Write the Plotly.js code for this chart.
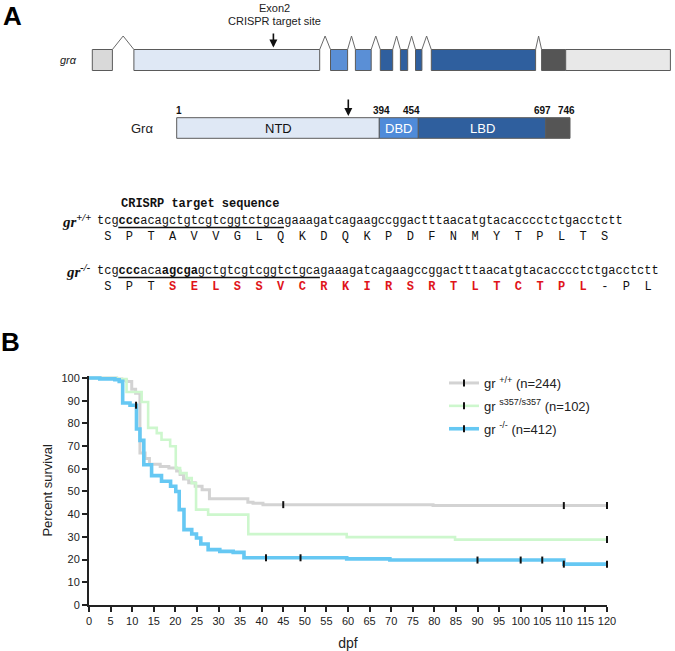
<!DOCTYPE html>
<html><head><meta charset="utf-8">
<script src="https://cdn.plot.ly/plotly-3.0.1.min.js"></script>
<style>html,body{margin:0;padding:0;background:#fff}</style>
</head><body><div id="chart" style="width:675px;height:651px"></div>
<script>
// ---------------- DATA ----------------
// Kaplan-Meier survival (percent) vs days post fertilization
const wtTime   = [0, 6.4, 7.6, 8.7, 9.9, 10.8, 11.8, 13.0, 14.0, 16.5, 18.5, 20.3, 21.1, 21.9, 23.1, 24.6, 26.2, 27.9, 36.8, 38.0, 40.3, 79.7, 120];
const wtSurv   = [100, 99.5, 99.0, 98.5, 95.0, 93.3, 67.0, 64.5, 62.0, 61.0, 60.3, 59.0, 57.5, 55.5, 53.8, 52.3, 50.8, 46.8, 45.3, 44.8, 44.2, 43.8, 43.8];
const wtCensor = [45, 110, 120];

const s357Time   = [0, 6.5, 8.7, 12.2, 13.7, 15.7, 16.8, 18.8, 20.1, 21.1, 22.6, 23.8, 24.8, 27.6, 36.9, 59.7, 84.8, 120];
const s357Surv   = [100, 99.5, 93.8, 89.4, 78.0, 75.7, 72.8, 69.9, 60.3, 58.1, 55.9, 53.7, 42.0, 39.8, 31.2, 29.9, 28.8, 28.8];
const s357Censor = [120];

const koTime   = [0, 2.5, 6.0, 7.0, 7.8, 9.5, 11.0, 11.8, 12.7, 14.5, 16.8, 18.9, 20.1, 20.9, 22.0, 23.8, 24.9, 25.9, 27.6, 30.3, 33.4, 35.9, 59.7, 69.7, 110, 120];
const koSurv   = [100, 99.6, 99.2, 98.5, 89.0, 88.0, 77.5, 72.5, 61.8, 57.0, 54.5, 52.3, 50.0, 42.0, 33.2, 31.3, 29.5, 26.9, 24.4, 23.6, 23.2, 20.8, 20.3, 19.8, 18.0, 18.0];
const koCensor = [10.9, 41, 49, 90, 100, 105, 110, 120];

const seriesNames = ['gr <sup>+/+</sup> (n=244)', 'gr <sup>s357/s357</sup> (n=102)', 'gr <sup>-/-</sup> (n=412)'];
const xTicks = [0,5,10,15,20,25,30,35,40,45,50,55,60,65,70,75,80,85,90,95,100,105,110,115,120];
const yTicks = [0,10,20,30,40,50,60,70,80,90,100];

// Protein domains (aa boundaries) and labels
const domainNames = ['NTD', 'DBD', 'LBD', ''];
const domainBounds = ['1', '394', '454', '697', '746'];

// Sequences
const seqWT  = 'tcgcccacagctgtcgtcggtctgcagaaagatcagaagccggactttaacatgtacacccctctgacctctt';
const seqKO  = 'tcgcccacaagcgagctgtcgtcggtctgcagaaagatcagaagccggactttaacatgtacacccctctgacctctt';
const aaWT   = ['S','P','T','A','V','V','G','L','Q','K','D','Q','K','P','D','F','N','M','Y','T','P','L','T','S'];
const aaKO   = ['S','P','T','S','E','L','S','S','V','C','R','K','I','R','S','R','T','L','T','C','T','P','L','-','P','L'];
const aaKOchanged = [3,4,5,6,7,8,9,10,11,12,13,14,15,16,17,18,19,20,21,22];
const wtBold = [[3,6]];           // char index ranges [start,end)
const koBold = [[3,6],[9,14]];
const wtTarget = [3,26];
const koTarget = [3,31];

// ---------------- LAYOUT HELPERS ----------------
const W = 675, H = 651;
const px = x => x / W;
const py = y => 1 - y / H;
const SANS = 'Liberation Sans, Arial, Helvetica, sans-serif';
const MONO = 'Liberation Mono, Courier New, monospace';
const CW = 7.2; // monospace char width at 12px

const shapes = [];
const annotations = [];
function rect(x0, x1, y0, y1, fill) {
  shapes.push({type:'rect', xref:'paper', yref:'paper', x0:px(x0), x1:px(x1), y0:py(y1), y1:py(y0),
    fillcolor:fill, line:{color:'#5a5a5a', width:1}, layer:'above'});
}
function text(t, x, y, opts) {
  annotations.push(Object.assign({text:t, xref:'paper', yref:'paper', x:px(x), y:py(y), showarrow:false,
    xanchor:'center', yanchor:'middle', borderpad:0, borderwidth:0,
    font:{family:SANS, size:12, color:'#111'}}, opts || {}));
}
function arrow(x, yTip, yTail) {
  annotations.push({text:'', xref:'paper', yref:'paper', x:px(x), y:py(yTip), ax:0, ay:-(yTip - yTail),
    showarrow:true, arrowhead:2, arrowsize:1, arrowwidth:1.6, arrowcolor:'#111', standoff:0});
}

// Panel labels
text('<b>A</b>', 12, 16, {font:{family:SANS, size:26, color:'#000'}});
text('<b>B</b>', 10, 342, {font:{family:SANS, size:26, color:'#000'}});

// Gene model
const geneExons = [[92.3,112.4],[133.9,319.7],[330.5,347.6],[355.4,371.2],[380.3,392.7],[400.4,407.7],[415.5,421.9],[431.3,535.6],[541.6,565.7],[565.7,670.4]];
const exonFill = ['#d9d9d9','#dfe8f5','#5a8fd6','#5a8fd6','#2f5f9e','#2f5f9e','#2f5f9e','#2f5f9e','#555555','#e8e8e8'];
const gTop = 49.5, gBot = 70.5, hatTop = 36;
geneExons.forEach((e, i) => rect(e[0], e[1], gTop, gBot, exonFill[i]));
for (let i = 0; i < 9; i++) {
  const a = geneExons[i][1], b = geneExons[i+1][0];
  if (b - a < 0.5) continue;
  const m = (a + b) / 2;
  shapes.push({type:'path', xref:'paper', yref:'paper',
    path:`M${px(a)},${py(gTop)} L${px(m)},${py(hatTop)} L${px(b)},${py(gTop)}`,
    line:{color:'#6a6a6a', width:1}});
}
text('<i>grα</i>', 68.7, 60, {font:{family:SANS, size:11, color:'#222'}});
text('Exon2', 274.7, 7.5, {font:{family:SANS, size:11, color:'#222'}});
text('CRISPR target site', 274.7, 21, {font:{family:SANS, size:11, color:'#222'}});
arrow(273.4, 47.5, 32);

// Protein model
const protEdges = [176.7, 379.3, 418.3, 545.7, 570];
const protFill = ['#dfe8f5','#4f8bd9','#2f5f9e','#555555'];
const protLabelColor = ['#111','#fff','#fff','#fff'];
const pTop = 117.7, pBot = 138.3;
for (let i = 0; i < 4; i++) {
  rect(protEdges[i], protEdges[i+1], pTop, pBot, protFill[i]);
  if (domainNames[i]) text(domainNames[i], (protEdges[i] + protEdges[i+1]) / 2, 128.5,
    {font:{family:SANS, size:13, color:protLabelColor[i]}});
}
const boundLabelX = [179.3, 381.7, 411.2, 542.5, 566];
domainBounds.forEach((b, i) => text('<b>' + b + '</b>', boundLabelX[i], 110, {font:{family:SANS, size:10, color:'#111'}}));
text('Grα', 153, 128, {xanchor:'right', font:{family:SANS, size:13, color:'#222'}});
arrow(348.3, 116, 98);

// Sequence block
const NB = '\u00a0';
function seqHTML(seq, bold) {
  let out = '';
  for (let i = 0; i < seq.length; i++) {
    const isStart = bold.some(r => r[0] === i), isEnd = bold.some(r => r[1] === i);
    if (isEnd) out += '</b>';
    if (isStart) out += '<b>';
    out += seq[i];
  }
  if (bold.some(r => r[1] === seq.length)) out += '</b>';
  return out;
}
function aaHTML(letters, changed) {
  return letters.map((l, i) => NB + (changed.includes(i)
    ? '<span style="color:#e0141a;font-weight:bold">' + l + '</span>' : l) + NB).join('');
}
const seqX = 96.7;
const rowY = [221.3, 270.7], aaY = [237.3, 287.3], ulY = [227.5, 277.5];
text('<b>CRISRP target sequence</b>', 199.7, 203.7, {font:{family:MONO, size:12, color:'#111'}});
text('<b><i>gr<sup>+/+</sup></i></b>', 91, rowY[0], {xanchor:'right', font:{family:'Liberation Serif, Times New Roman, serif', size:15, color:'#111'}});
text('<b><i>gr<sup>-/-</sup></i></b>', 91, rowY[1], {xanchor:'right', font:{family:'Liberation Serif, Times New Roman, serif', size:15, color:'#111'}});
text(seqHTML(seqWT, wtBold), seqX, rowY[0], {xanchor:'left', font:{family:MONO, size:12, color:'#111'}});
text(seqHTML(seqKO, koBold), seqX, rowY[1], {xanchor:'left', font:{family:MONO, size:12, color:'#111'}});
text(aaHTML(aaWT, []), seqX, aaY[0], {xanchor:'left', font:{family:MONO, size:12, color:'#111'}});
text(aaHTML(aaKO, aaKOchanged), seqX, aaY[1], {xanchor:'left', font:{family:MONO, size:12, color:'#111'}});
[wtTarget, koTarget].forEach((r, i) => shapes.push({type:'line', xref:'paper', yref:'paper',
  x0:px(seqX + r[0]*CW), x1:px(seqX + r[1]*CW), y0:py(ulY[i]), y1:py(ulY[i]), line:{color:'#111', width:1.5}}));

// ---------------- SURVIVAL TRACES ----------------
function stepAt(times, surv, t) {
  let v = surv[0];
  for (let i = 0; i < times.length; i++) if (times[i] <= t) v = surv[i];
  return v;
}
const series = [
  {t: wtTime, s: wtSurv, c: wtCensor, color:'#d3d3d3', width:3},
  {t: s357Time, s: s357Surv, c: s357Censor, color:'#cdf7cd', width:2.6},
  {t: koTime, s: koSurv, c: koCensor, color:'#66c8f3', width:3.6}
];
const traces = [];
series.forEach(sr => traces.push({x: sr.t, y: sr.s, type:'scatter', mode:'lines',
  line:{shape:'hv', color:sr.color, width:sr.width}, showlegend:false, hoverinfo:'skip'}));
series.forEach(sr => traces.push({x: sr.c, y: sr.c.map(t => stepAt(sr.t, sr.s, t)), type:'scatter', mode:'markers',
  marker:{symbol:'line-ns', size:5, color:'#111', line:{width:2, color:'#111'}}, cliponaxis:false,
  showlegend:false, hoverinfo:'skip'}));
series.forEach((sr, i) => traces.push({x:[null], y:[null], type:'scatter', mode:'lines+markers', name: seriesNames[i],
  legendgroup:'g' + i, line:{color:sr.color, width:sr.width},
  marker:{symbol:'line-ns', size:5, color:'#111', line:{width:2, color:'#111'}}}));

const layout = {
  width: W, height: H,
  margin: {l:0, r:0, t:0, b:0, pad:0},
  paper_bgcolor:'#fff', plot_bgcolor:'rgba(0,0,0,0)',
  font: {family: SANS, color:'#222'},
  xaxis: {domain:[89/W, 607/W], range:[0,120], tickvals:xTicks, ticks:'outside', ticklen:5, tickwidth:2,
    tickcolor:'#222', showline:true, linewidth:2, linecolor:'#222', showgrid:false, zeroline:false,
    tickfont:{size:11, color:'#222'}, title:{text:'dpf', font:{size:14, color:'#222'}}, automargin:false, fixedrange:true},
  yaxis: {domain:[1 - 605/H, 1 - 375.7/H], range:[0,101], tickvals:yTicks, ticks:'outside', ticklen:5, tickwidth:2,
    tickcolor:'#222', showline:true, linewidth:2, linecolor:'#222', showgrid:false, zeroline:false,
    tickfont:{size:11, color:'#222'}, title:{text:'Percent survival', font:{size:13, color:'#222'}}, automargin:false, fixedrange:true},
  legend: {x: 444/W, y: py(368), xanchor:'left', yanchor:'top', bgcolor:'rgba(0,0,0,0)', font:{size:13, color:'#222'},
    tracegroupgap:3, itemwidth:30},
  shapes: shapes,
  annotations: annotations
};
Plotly.newPlot('chart', traces, layout, {displayModeBar:false, staticPlot:true});
</script></body></html>
